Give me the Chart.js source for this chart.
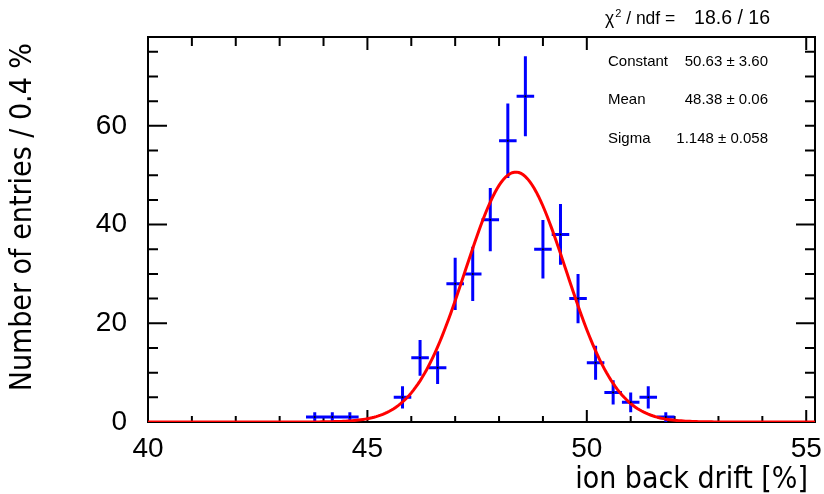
<!DOCTYPE html>
<html>
<head>
<meta charset="utf-8">
<title>Ion back drift</title>
<script src="https://cdn.jsdelivr.net/npm/chart.js@4.4.1/dist/chart.umd.min.js"></script>
<style>
  html, body { margin: 0; padding: 0; background: #fff; }
  canvas { display: block; }
</style>
</head>
<body>
<canvas id="ibdChart" width="824" height="494"></canvas>
<script>
// histogram: bin centres (0.4 % bins), entries and their errors
const binCenters = [43.8, 44.2, 44.6, 45.8, 46.2, 46.6, 47.0, 47.4, 47.8, 48.2, 48.6, 49.0, 49.4, 49.8, 50.2, 50.6, 51.0, 51.4, 51.8];
const entries = [1, 1, 1, 5, 13, 11, 28, 30, 41, 57, 66, 35, 38, 25, 12, 6, 4, 5, 1];
const entryErrors = [1, 1, 1, 2.24, 3.61, 3.32, 5.29, 5.48, 6.40, 7.55, 8.12, 5.92, 6.16, 5, 3.46, 2.45, 2, 2.24, 1];
const binWidth = 0.4;

// gaussian fit parameters
const fitConstant = 50.63;
const fitMean = 48.38;
const fitSigma = 1.148;
const fitLabels = ["Constant", "Mean", "Sigma"];
const fitValues = ["50.63 \u00b1 3.60", "48.38 \u00b1 0.06", "1.148 \u00b1 0.058"];
const chi2Value = "18.6 / 16";

// axes
const xRange = [40, 55.2];
const yRange = [0, 78];
const xTicks = [40, 45, 50, 55];
const yTicks = [0, 20, 40, 60];
const xTitle = "ion back drift [%]";
const yTitle = "Number of entries / 0.4 %";

// error bar crosses as line segments separated by gaps
const errorSegments = [];
binCenters.forEach((x, i) => {
  const y = entries[i];
  const e = entryErrors[i];
  errorSegments.push({ x: x - binWidth / 2, y: y }, { x: x + binWidth / 2, y: y }, { x: null, y: null });
  errorSegments.push({ x: x, y: y - e }, { x: x, y: y + e }, { x: null, y: null });
});
const centerPoints = binCenters.map((x, i) => ({ x: x, y: entries[i] }));

// fitted gaussian over the full histogram range
const fitCurve = [];
for (let x = xRange[0]; x <= xRange[1] + 1e-9; x += 0.05) {
  fitCurve.push({ x: x, y: fitConstant * Math.exp(-0.5 * Math.pow((x - fitMean) / fitSigma, 2)) });
}

const rootFrame = {
  id: "rootFrame",
  beforeDatasetsDraw(chart) {
    const { ctx, chartArea: a, scales } = chart;
    ctx.save();
    ctx.strokeStyle = "#000";
    ctx.lineWidth = 2;
    ctx.beginPath();
    for (let v = 40; v <= 55; v += 1) {
      const px = scales.x.getPixelForValue(v);
      const major = v % 5 === 0;
      ctx.moveTo(px, a.bottom); ctx.lineTo(px, a.bottom - (major ? 12 : 6));
      ctx.moveTo(px, a.top); ctx.lineTo(px, a.top + (major ? 13 : 9));
    }
    for (let v = 0; v <= 75; v += 5) {
      const py = scales.y.getPixelForValue(v);
      const len = v % 20 === 0 ? 19 : 10;
      ctx.moveTo(a.left, py); ctx.lineTo(a.left + len, py);
      ctx.moveTo(a.right, py); ctx.lineTo(a.right - len, py);
    }
    ctx.stroke();
    ctx.strokeRect(a.left, a.top, a.right - a.left, a.bottom - a.top);
    ctx.restore();
  },
  afterDatasetsDraw(chart) {
    const { ctx, chartArea: a } = chart;
    ctx.save();

    // stats box
    ctx.fillStyle = "#fff";
    ctx.fillRect(589, 0, 216, 156);
    ctx.strokeStyle = "#000";
    ctx.lineWidth = 2;
    ctx.beginPath();
    ctx.moveTo(588, a.top); ctx.lineTo(806, a.top);
    ctx.stroke();

    ctx.fillStyle = "#000";
    ctx.textBaseline = "alphabetic";
    ctx.font = '17.5px "Liberation Sans"';
    ctx.textAlign = "left";
    let cx = 605;
    ctx.fillText("\u03c7", cx, 24);
    cx += ctx.measureText("\u03c7").width;
    ctx.font = '11px "Liberation Sans"';
    ctx.fillText("2", cx + 1, 17);
    cx += ctx.measureText("2").width + 1;
    ctx.font = '17.5px "Liberation Sans"';
    ctx.fillText(" / ndf =", cx, 24);
    ctx.font = '19.5px "Liberation Sans"';
    ctx.textAlign = "right";
    ctx.fillText(chi2Value, 770, 24);

    ctx.font = '15px "Liberation Sans"';
    const rowY = [65.5, 103.5, 142.5];
    fitLabels.forEach((label, i) => {
      ctx.textAlign = "left";
      ctx.fillText(label, 608, rowY[i]);
      ctx.textAlign = "right";
      ctx.fillText(fitValues[i], 768, rowY[i]);
    });

    // axis titles, narrow sans
    ctx.font = '31px "DejaVu Sans"';
    ctx.textAlign = "right";
    ctx.save();
    ctx.translate(808, 488);
    ctx.scale(0.87, 1);
    ctx.fillText(xTitle, 0, 0);
    ctx.restore();
    ctx.save();
    ctx.translate(31, 43);
    ctx.rotate(-Math.PI / 2);
    ctx.scale(0.87, 1);
    ctx.fillText(yTitle, 0, 0);
    ctx.restore();

    ctx.restore();
  }
};

const tickFont = { family: "Liberation Sans", size: 28 };

new Chart(document.getElementById("ibdChart"), {
  type: "scatter",
  data: {
    datasets: [
      {
        label: "bin centres",
        data: centerPoints,
        pointRadius: 1,
        pointBackgroundColor: "#000",
        pointBorderWidth: 0,
        showLine: false,
        order: 0
      },
      {
        label: "gaus fit",
        data: fitCurve,
        showLine: true,
        borderColor: "#ff0000",
        borderWidth: 3,
        pointRadius: 0,
        tension: 0,
        order: 1
      },
      {
        label: "entries",
        data: errorSegments,
        showLine: true,
        spanGaps: false,
        borderColor: "#0000ff",
        borderWidth: 3,
        borderCapStyle: "butt",
        pointRadius: 0,
        order: 2
      }
    ]
  },
  options: {
    responsive: false,
    devicePixelRatio: 1,
    animation: false,
    events: [],
    layout: { padding: { top: 37, right: 9, left: 0, bottom: 0 } },
    plugins: { legend: { display: false }, tooltip: { enabled: false } },
    scales: {
      x: {
        type: "linear",
        min: xRange[0],
        max: xRange[1],
        grid: { display: false },
        border: { display: false },
        afterBuildTicks: (scale) => { scale.ticks = xTicks.map((v) => ({ value: v })); },
        afterFit: (scale) => { scale.height = 72; },
        ticks: { font: tickFont, color: "#000", padding: 2, maxRotation: 0, includeBounds: false }
      },
      y: {
        type: "linear",
        min: yRange[0],
        max: yRange[1],
        grid: { display: false },
        border: { display: false },
        afterBuildTicks: (scale) => { scale.ticks = yTicks.map((v) => ({ value: v })); },
        afterFit: (scale) => { scale.width = 148; },
        ticks: { font: tickFont, color: "#000", padding: 13, includeBounds: false }
      }
    }
  },
  plugins: [rootFrame]
});
</script>
</body>
</html>
